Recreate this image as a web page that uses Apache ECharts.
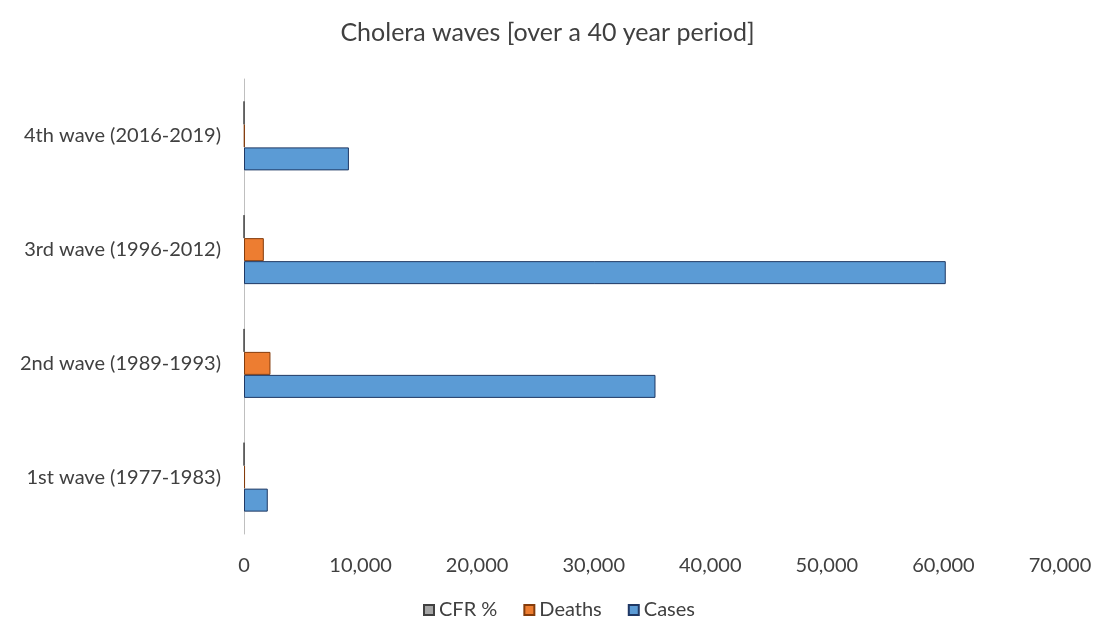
<!DOCTYPE html>
<html>
<head>
<meta charset="utf-8">
<script src="https://cdn.jsdelivr.net/npm/echarts@6/dist/echarts.min.js"></script>
<style>
  html, body { margin: 0; padding: 0; background: #fff; }
  #chart { width: 1095px; height: 621px; }
</style>
</head>
<body>
<div id="chart"></div>
<script>
// Cholera waves, bottom to top
const waves = ['1st wave (1977-1983)', '2nd wave (1989-1993)', '3rd wave (1996-2012)', '4th wave (2016-2019)'];
const cfrPct = [4.5, 6.3, 2.8, 0.6];
const deaths = [90, 2270, 1700, 55];
const cases = [2040, 35300, 60200, 9000];
const xTicks = [0, 10000, 20000, 30000, 40000, 50000, 60000, 70000];

const textColor = '#404040';
const font = 'Lato, "Open Sans", sans-serif';

const chart = echarts.init(document.getElementById('chart'));
chart.setOption({
  animation: false,
  title: {
    text: 'Cholera waves [over a 40 year period]',
    left: 'center',
    top: 15,
    textStyle: { color: textColor, fontFamily: font, fontSize: 25, fontWeight: 'normal' }
  },
  legend: {
    data: ['CFR %', 'Deaths', 'Cases'],
    bottom: -4,
    left: 418,
    icon: 'rect',
    itemWidth: 10,
    itemHeight: 10,
    itemGap: 26,
    textStyle: { color: textColor, fontFamily: font, fontSize: 20 }
  },
  grid: { left: 244, right: 35, top: 79, bottom: 87 },
  xAxis: {
    type: 'value',
    min: xTicks[0],
    max: xTicks[xTicks.length - 1],
    interval: xTicks[1] - xTicks[0],
    axisLine: { show: false },
    axisTick: { show: false },
    splitLine: { show: false },
    axisLabel: {
      color: textColor, fontFamily: font, fontSize: 20, margin: 22,
      formatter: v => v.toLocaleString('en-US')
    }
  },
  yAxis: {
    type: 'category',
    data: waves,
    axisLine: { show: true, lineStyle: { color: '#bfbfbf', width: 1 } },
    axisTick: { show: false },
    axisLabel: { color: textColor, fontFamily: font, fontSize: 20, margin: 23 }
  },
  series: [
    {
      name: 'CFR %', type: 'bar', data: cfrPct,
      barWidth: 23, barGap: '0%',
      itemStyle: { color: '#a5a5a5', borderColor: '#404040', borderWidth: 1 }
    },
    {
      name: 'Deaths', type: 'bar', data: deaths,
      barWidth: 23, barGap: '0%',
      itemStyle: { color: '#ed7d31', borderColor: '#843c0c', borderWidth: 1 }
    },
    {
      name: 'Cases', type: 'bar', data: cases,
      barWidth: 23, barGap: '0%',
      itemStyle: { color: '#5b9bd5', borderColor: '#1f3864', borderWidth: 1 }
    }
  ]
});
</script>
</body>
</html>
